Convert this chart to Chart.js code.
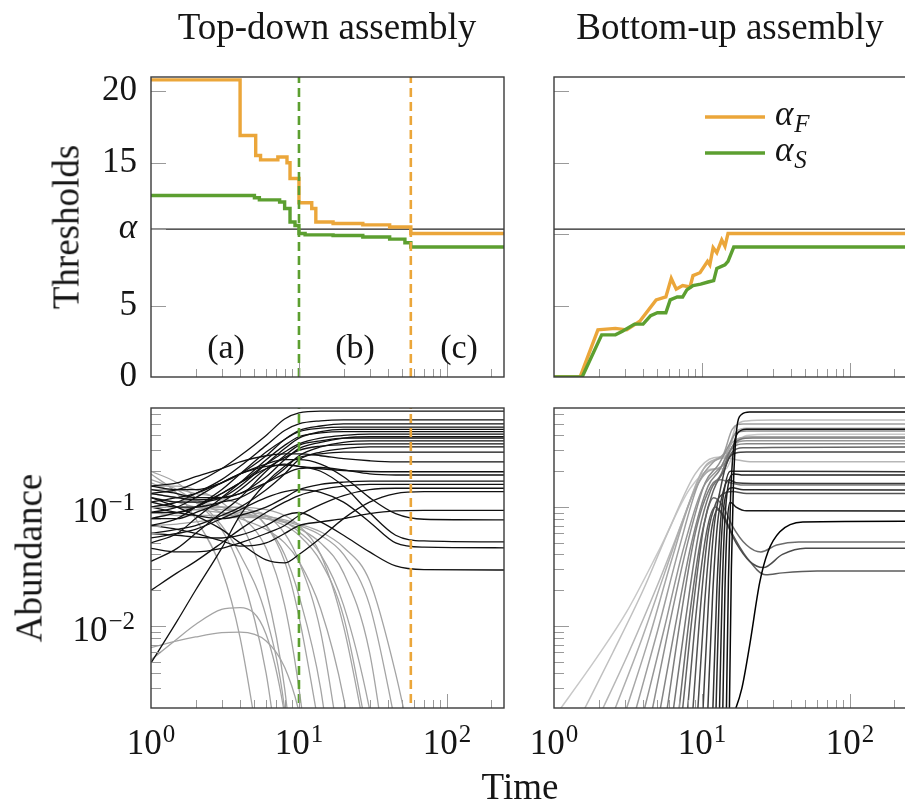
<!DOCTYPE html>
<html>
<head>
<meta charset="utf-8">
<script src="https://cdn.jsdelivr.net/npm/chart.js@4.4.1/dist/chart.umd.min.js"></script>
<style>
  body { margin: 0; background: #fff; }
  #page { position: relative; width: 905px; height: 805px; overflow: hidden; background: #fff; }
  #page canvas { position: absolute; left: 0; top: 0; }
  .txt { position: absolute; font-family: 'Liberation Serif', serif; color: #151515; white-space: nowrap; line-height: 1; transform: translate(-50%, -50%); }
  .big { font-size: 37px; }
  .mid { font-size: 34px; }
  .rot { transform: translate(-50%, -50%) rotate(-90deg); }
</style>
</head>
<body>
<div id="page">
  <canvas id="tdTop" width="930" height="805"></canvas>
  <canvas id="buTop" width="930" height="805"></canvas>
  <canvas id="tdBottom" width="930" height="805"></canvas>
  <canvas id="buBottom" width="930" height="805"></canvas>

  <div class="txt big" style="left:327px; top:26px;">Top-down assembly</div>
  <div class="txt big" style="left:730px; top:26px;">Bottom-up assembly</div>
  <div class="txt big rot" style="left:66px; top:227px;">Thresholds</div>
  <div class="txt big rot" style="left:29px; top:558px;">Abundance</div>
  <div class="txt big" style="left:520px; top:786px;">Time</div>
  <div class="txt mid" style="left:226px; top:347px;">(a)</div>
  <div class="txt mid" style="left:355px; top:347px;">(b)</div>
  <div class="txt mid" style="left:459px; top:347px;">(c)</div>
</div>

<script>
// ---- data -------------------------------------------------------------
const ALPHA = 10.35;
const switchTimes = [10, 57];          // end of phase (a), end of phase (b)

// thresholds, top-down: [time, value] where each value starts at its time
const tdAlphaF = [[1, 20.8], [4.0, 16.9], [5.1, 15.5], [5.5, 15.2], [7.2, 15.4], [8.3, 15.0], [8.7, 13.9],
  [10, 12.2], [12.2, 11.8], [13, 10.85], [17, 10.75], [27, 10.65], [41, 10.5], [57, 10.05], [250, 10.05]];
const tdAlphaS = [[1, 12.7], [5.0, 12.55], [5.4, 12.4], [7.4, 12.25], [8.0, 11.8], [8.7, 10.85], [9.4, 10.6],
  [10, 10.05], [11, 9.95], [17, 9.9], [27, 9.8], [41, 9.65], [52, 9.4], [57, 9.1], [250, 9.1]];

// thresholds, bottom-up
const buAlphaF = [[1, 0], [1.5, 0], [1.98, 3.3], [2.6, 3.4], [3.1, 3.3], [3.8, 3.9], [4.9, 5.4], [5.7, 5.6],
  [6.2, 6.9], [6.7, 6.15], [7.4, 6.4], [8.3, 6.3], [8.7, 7.1], [9.7, 7.3], [10.9, 8.1], [11.3, 7.85],
  [11.9, 9.05], [12.6, 8.7], [13.6, 9.6], [14.3, 9.15], [15.0, 10.05], [250, 10.05]];
const buAlphaS = [[1, 0], [1.55, 0], [2.1, 2.95], [2.6, 2.95], [2.9, 3.2], [3.5, 3.7], [4.0, 3.7], [4.5, 4.3],
  [5.0, 4.5], [5.7, 4.5], [6.1, 5.4], [6.8, 5.6], [7.4, 5.6], [7.9, 6.1], [8.7, 6.4], [9.8, 6.5],
  [11.0, 6.65], [12.0, 6.75], [12.6, 7.6], [14.3, 7.85], [15.0, 8.1], [16.4, 9.1], [250, 9.1]];

// abundances, top-down: sampled on a shared time grid
const tdTimes = [1, 1.5, 2, 3, 4, 6, 8, 10, 14, 20, 30, 45, 70, 250];
const tdSurvivors = [
  [0.13, 0.14, 0.16, 0.21, 0.27, 0.40, 0.55, 0.62, 0.64, 0.64, 0.64, 0.64, 0.64, 0.64],
  [0.10, 0.11, 0.13, 0.17, 0.22, 0.33, 0.44, 0.50, 0.53, 0.54, 0.54, 0.54, 0.54, 0.54],
  [0.15, 0.14, 0.14, 0.16, 0.19, 0.27, 0.37, 0.44, 0.48, 0.50, 0.50, 0.50, 0.50, 0.50],
  [0.07, 0.08, 0.10, 0.14, 0.19, 0.29, 0.37, 0.43, 0.46, 0.47, 0.47, 0.47, 0.47, 0.47],
  [0.12, 0.11, 0.11, 0.12, 0.15, 0.23, 0.31, 0.38, 0.43, 0.45, 0.45, 0.45, 0.45, 0.45],
  [0.05, 0.06, 0.08, 0.12, 0.16, 0.25, 0.33, 0.39, 0.42, 0.43, 0.43, 0.43, 0.43, 0.43],
  [0.09, 0.09, 0.10, 0.13, 0.16, 0.23, 0.29, 0.34, 0.38, 0.40, 0.41, 0.41, 0.41, 0.41],
  [0.14, 0.13, 0.12, 0.12, 0.13, 0.18, 0.25, 0.31, 0.35, 0.38, 0.39, 0.39, 0.39, 0.39],
  [0.035, 0.045, 0.06, 0.09, 0.12, 0.20, 0.27, 0.33, 0.36, 0.38, 0.38, 0.38, 0.38, 0.38],
  [0.11, 0.10, 0.10, 0.11, 0.12, 0.16, 0.21, 0.27, 0.32, 0.35, 0.36, 0.36, 0.36, 0.36],
  [0.08, 0.08, 0.09, 0.11, 0.14, 0.21, 0.26, 0.30, 0.325, 0.335, 0.34, 0.34, 0.34, 0.34],
  [0.06, 0.065, 0.07, 0.085, 0.10, 0.14, 0.19, 0.25, 0.29, 0.31, 0.32, 0.32, 0.32, 0.32],
  [0.0049, 0.011, 0.02, 0.045, 0.085, 0.16, 0.22, 0.26, 0.28, 0.29, 0.29, 0.29, 0.29, 0.29],
  [0.15, 0.16, 0.18, 0.21, 0.24, 0.27, 0.28, 0.28, 0.27, 0.255, 0.245, 0.24, 0.24, 0.24],
  [0.09, 0.10, 0.12, 0.16, 0.19, 0.22, 0.225, 0.22, 0.21, 0.203, 0.199, 0.198, 0.198, 0.198],
  [0.13, 0.12, 0.115, 0.12, 0.13, 0.16, 0.19, 0.21, 0.215, 0.205, 0.19, 0.186, 0.186, 0.186],
  [0.10, 0.09, 0.085, 0.08, 0.085, 0.10, 0.12, 0.14, 0.155, 0.162, 0.165, 0.165, 0.165, 0.165],
  [0.02, 0.028, 0.035, 0.05, 0.065, 0.09, 0.11, 0.125, 0.14, 0.15, 0.155, 0.155, 0.155, 0.155],
  [0.045, 0.042, 0.042, 0.045, 0.05, 0.06, 0.07, 0.085, 0.105, 0.125, 0.14, 0.144, 0.144, 0.144],
  [0.12, 0.10, 0.085, 0.065, 0.05, 0.036, 0.034, 0.04, 0.055, 0.08, 0.11, 0.13, 0.135, 0.135],
  [0.07, 0.065, 0.06, 0.052, 0.047, 0.05, 0.06, 0.07, 0.075, 0.08, 0.088, 0.093, 0.094, 0.094],
  [0.11, 0.12, 0.13, 0.16, 0.19, 0.23, 0.25, 0.25, 0.23, 0.18, 0.12, 0.088, 0.079, 0.078],
  [0.08, 0.09, 0.10, 0.13, 0.16, 0.21, 0.23, 0.22, 0.20, 0.15, 0.09, 0.058, 0.052, 0.051],
  [0.055, 0.06, 0.065, 0.08, 0.095, 0.12, 0.135, 0.14, 0.133, 0.11, 0.075, 0.05, 0.046, 0.0455],
  [0.06, 0.058, 0.056, 0.055, 0.058, 0.07, 0.085, 0.09, 0.075, 0.058, 0.042, 0.032, 0.0298, 0.0296]
];
// species that go extinct (series stop once they are far below the axis)
const tdExtinct = [
  [0.19, 0.13, 0.08, 0.03, 0.008, 0.0004],
  [0.17, 0.14, 0.11, 0.065, 0.03, 0.004, 0.0003],
  [0.15, 0.15, 0.14, 0.11, 0.075, 0.02, 0.003, 0.0002],
  [0.13, 0.12, 0.115, 0.10, 0.085, 0.045, 0.015, 0.003, 0.0001],
  [0.10, 0.11, 0.115, 0.115, 0.105, 0.07, 0.035, 0.012, 0.0012],
  [0.08, 0.09, 0.095, 0.10, 0.098, 0.085, 0.06, 0.035, 0.009, 0.0006],
  [0.16, 0.13, 0.11, 0.09, 0.08, 0.065, 0.05, 0.035, 0.014, 0.0025, 0.0001],
  [0.12, 0.11, 0.10, 0.095, 0.09, 0.08, 0.07, 0.058, 0.035, 0.012, 0.001],
  [0.09, 0.085, 0.085, 0.085, 0.085, 0.08, 0.074, 0.066, 0.05, 0.028, 0.006, 0.0002],
  [0.07, 0.072, 0.075, 0.08, 0.082, 0.08, 0.076, 0.07, 0.058, 0.04, 0.015, 0.0015, 0.0001],
  [0.11, 0.10, 0.095, 0.09, 0.087, 0.083, 0.078, 0.072, 0.062, 0.046, 0.024, 0.004, 0.0003],
  [0.0052, 0.0078, 0.0103, 0.0138, 0.0143, 0.0085, 0.0018, 0.0002],
  [0.0066, 0.0075, 0.0081, 0.0088, 0.0089, 0.0075, 0.0045, 0.0019, 0.0002],
  [0.2, 0.16, 0.12, 0.07, 0.04, 0.012, 0.002, 0.0001],
  [0.14, 0.14, 0.13, 0.12, 0.105, 0.07, 0.04, 0.018, 0.003, 0.0001],
  [0.1, 0.1, 0.1, 0.1, 0.1, 0.095, 0.085, 0.07, 0.04, 0.01, 0.0008],
  [0.13, 0.12, 0.11, 0.1, 0.093, 0.085, 0.075, 0.062, 0.04, 0.015, 0.002, 0.0001]
];

// abundances, bottom-up: one [time, value] list per species, in order of arrival
const buSpecies = [
  [[1.0, 0.0017], [1.94, 0.0054], [3.1, 0.0132], [5.2, 0.045], [8.3, 0.143], [11.9, 0.21], [14.5, 0.21], [17, 0.33], [20, 0.40], [30, 0.41], [250, 0.41]],
  [[1.5, 0.0017], [2.5, 0.006], [4, 0.02], [6, 0.065], [9, 0.19], [12, 0.26], [14.5, 0.27], [17, 0.48], [20, 0.53], [30, 0.54], [250, 0.54]],
  [[2.0, 0.0017], [3.2, 0.006], [5, 0.022], [7.5, 0.08], [10, 0.2], [12.5, 0.25], [14.5, 0.26], [17, 0.25], [22, 0.24], [250, 0.24]],
  [[2.45, 0.0017], [3.8, 0.007], [5.6, 0.028], [8, 0.1], [10.5, 0.22], [13, 0.26], [15, 0.3], [17, 0.43], [20, 0.46], [250, 0.46]],
  [[2.95, 0.0017], [4.4, 0.008], [6.2, 0.035], [8.5, 0.12], [11, 0.2], [13.5, 0.22], [15.5, 0.33], [18, 0.38], [22, 0.39], [250, 0.39]],
  [[3.45, 0.0017], [5, 0.009], [7, 0.045], [9.5, 0.16], [12, 0.24], [14, 0.28], [16, 0.45], [19, 0.5], [250, 0.5]],
  [[3.95, 0.0017], [5.5, 0.009], [7.5, 0.045], [10, 0.14], [12.5, 0.2], [14.5, 0.24], [16.5, 0.34], [20, 0.36], [250, 0.36]],
  [[4.5, 0.0017], [6, 0.01], [8, 0.05], [10.5, 0.16], [13, 0.23], [15, 0.32], [17, 0.42], [20, 0.435], [250, 0.435]],
  [[5.1, 0.0017], [6.6, 0.01], [8.5, 0.05], [11, 0.15], [13, 0.2], [15, 0.28], [17, 0.33], [20, 0.34], [250, 0.34]],
  [[5.7, 0.0017], [7.2, 0.012], [9, 0.06], [11.5, 0.15], [13.5, 0.17], [15.5, 0.16], [19, 0.153], [250, 0.153]],
  [[6.3, 0.0017], [7.8, 0.012], [9.5, 0.06], [11.5, 0.14], [13.5, 0.19], [15.5, 0.3], [18, 0.37], [22, 0.38], [250, 0.38]],
  [[6.9, 0.0017], [8.3, 0.013], [10, 0.06], [12, 0.12], [14, 0.1], [16, 0.07], [20, 0.048], [25, 0.042], [32, 0.048], [45, 0.051], [250, 0.051]],
  [[7.3, 0.0017], [8.7, 0.014], [10.3, 0.07], [12, 0.14], [14, 0.2], [16, 0.29], [19, 0.315], [250, 0.32]],
  [[7.9, 0.0017], [9.2, 0.014], [10.7, 0.06], [12.3, 0.1], [14, 0.085], [16, 0.06], [20, 0.038], [27, 0.027], [35, 0.028], [60, 0.029], [250, 0.029]],
  [[8.6, 0.0017], [9.8, 0.015], [11, 0.06], [12.5, 0.11], [14, 0.13], [16, 0.135], [20, 0.13], [250, 0.13]],
  [[9.3, 0.0017], [10.4, 0.015], [11.5, 0.06], [12.8, 0.095], [14.5, 0.075], [17, 0.05], [21, 0.035], [26, 0.031], [35, 0.04], [50, 0.045], [250, 0.045]],
  [[10.1, 0.0017], [11.1, 0.017], [12.1, 0.07], [13.3, 0.14], [14.8, 0.24], [17, 0.285], [20, 0.29], [250, 0.29]],
  [[10.9, 0.0017], [11.8, 0.018], [12.7, 0.07], [13.8, 0.13], [15.2, 0.17], [17, 0.16], [22, 0.158], [250, 0.158]],
  [[11.8, 0.0017], [12.6, 0.02], [13.4, 0.08], [14.3, 0.15], [15.5, 0.2], [17.5, 0.2], [250, 0.198]],
  [[12.4, 0.0017], [13.1, 0.02], [13.8, 0.08], [14.6, 0.13], [16, 0.145], [19, 0.14], [250, 0.139]],
  [[13.1, 0.0017], [13.7, 0.02], [14.3, 0.08], [15, 0.15], [16.5, 0.19], [19, 0.186], [250, 0.186]],
  [[13.8, 0.0017], [14.3, 0.02], [14.8, 0.07], [15.5, 0.11], [17, 0.1], [20, 0.093], [250, 0.0925]],
  [[14.6, 0.0017], [15.1, 0.025], [15.6, 0.12], [16.3, 0.3], [17.5, 0.42], [20, 0.45], [250, 0.45]],
  [[15.3, 0.0017], [15.8, 0.03], [16.3, 0.15], [17, 0.4], [18.5, 0.6], [21, 0.63], [250, 0.63]],
  [[16.1, 0.0017], [18.6, 0.003], [21, 0.0069], [24.6, 0.0235], [27.9, 0.042], [33.6, 0.062], [48, 0.075], [250, 0.076]]
];

// axis ticks
const timeTicks = [1, 2, 3, 4, 5, 6, 7, 8, 9, 10, 20, 30, 40, 50, 60, 70, 80, 90, 100, 200];
const timeLabels = { 1: '0', 10: '1', 100: '2' };
const abundTicks = [0.003, 0.004, 0.005, 0.006, 0.007, 0.008, 0.009, 0.01, 0.02, 0.03, 0.04, 0.05,
  0.06, 0.07, 0.08, 0.09, 0.1, 0.2, 0.3, 0.4, 0.5, 0.6];
const abundLabels = { 0.01: '\u22122', 0.1: '\u22121' };
const tdThreshTicks = [0, 5, ALPHA, 15, 20];
const buThreshTicks = [0, 5, 10, 15, 20];

// ---- styling ----------------------------------------------------------
const ORANGE = '#eba63a';
const GREEN = '#5c9f30';
const SERIF = '"Liberation Serif", serif';
const AXIS_W = 80;                      // room kept for the y tick labels
const majors = [1, 10, 100, 0.01, 0.1];

const pairs = arr => arr.map(([x, y]) => ({ x, y }));
const onGrid = arr => tdTimes.map((t, i) => ({ x: t, y: i < arr.length ? arr[i] : null }));

function vline(x, lo, hi, color) {
  return { data: [{ x, y: lo }, { x, y: hi }], borderColor: color, borderWidth: 2.6,
    borderDash: [9, 5], pointRadius: 0, order: 0 };
}

function timeAxis() {
  return {
    type: 'logarithmic', min: 1, max: 243,
    afterBuildTicks: s => { s.ticks = timeTicks.map(v => ({ value: v, major: majors.includes(v) })); },
    afterFit: s => { s.height = 40; },
    ticks: { display: false, autoSkip: false },
    grid: { display: false, drawTicks: false },
    border: { display: false }
  };
}

function abundAxis() {
  return {
    type: 'logarithmic', min: 0.00205, max: 0.68,
    afterBuildTicks: s => { s.ticks = abundTicks.map(v => ({ value: v, major: majors.includes(v) })); },
    afterFit: s => { s.width = AXIS_W; },
    ticks: { display: false, autoSkip: false },
    grid: { display: false, drawTicks: false },
    border: { display: false }
  };
}

function threshAxis(list, labelled) {
  return {
    type: 'linear', min: 0, max: 21,
    afterBuildTicks: s => { s.ticks = list.map(v => ({ value: v, major: true })); },
    afterFit: s => { s.width = AXIS_W; },
    ticks: {
      display: labelled, autoSkip: false, padding: 14, color: '#151515',
      font: c => ({ family: SERIF, size: 35, style: c.tick && c.tick.value === ALPHA ? 'italic' : 'normal' }),
      callback: v => (v === ALPHA ? '\u03b1' : String(v))
    },
    grid: { display: false, drawTicks: false },
    border: { display: false }
  };
}

// "10" with a raised exponent; y is the tick position
function drawPower(ctx, exp, x, y, align) {
  ctx.font = '35px ' + SERIF;
  const wb = ctx.measureText('10').width;
  ctx.font = '25px ' + SERIF;
  const we = ctx.measureText(exp).width;
  const left = align === 'right' ? x - wb - we - 1 : x - (wb + we + 1) / 2;
  ctx.fillStyle = '#151515';
  ctx.textAlign = 'left';
  ctx.textBaseline = 'alphabetic';
  ctx.font = '35px ' + SERIF;
  ctx.fillText('10', left, y + 15);
  ctx.font = '25px ' + SERIF;
  ctx.fillText(exp, left + wb + 1, y + 3);
}

// frame, inward tick marks, power-of-ten labels and the legend
const panelDeco = {
  id: 'panelDeco',
  afterDatasetsDraw(chart, args, opts) {
    const { ctx, chartArea: a } = chart;
    const xs = chart.scales.x, ys = chart.scales.y;
    ctx.save();
    ctx.strokeStyle = '#9a9a9a';
    ctx.lineWidth = 1;
    ctx.beginPath();
    xs.ticks.forEach(t => {
      if (t.value === 1) return;
      const px = Math.round(xs.getPixelForValue(t.value)) + 0.5;
      ctx.moveTo(px, a.bottom);
      ctx.lineTo(px, a.bottom - (t.major ? 14 : 8));
    });
    ys.ticks.forEach(t => {
      const py = Math.round(ys.getPixelForValue(t.value)) + 0.5;
      if (py > a.bottom - 2 || py < a.top + 2) return;
      ctx.moveTo(a.left, py);
      ctx.lineTo(a.left + (ys.type === 'linear' || t.major ? 15 : 10), py);
    });
    ctx.stroke();

    ctx.strokeStyle = '#3a3a3a';
    ctx.lineWidth = 1.4;
    ctx.strokeRect(a.left, a.top, a.right - a.left, a.bottom - a.top);

    if (opts.timeLabels) {
      xs.ticks.forEach(t => {
        const e = timeLabels[t.value];
        if (e !== undefined) drawPower(ctx, e, xs.getPixelForValue(t.value), a.bottom + 31, 'center');
      });
    }
    if (opts.abundLabels) {
      ys.ticks.forEach(t => {
        const e = abundLabels[t.value];
        if (e !== undefined) drawPower(ctx, e, a.left - 16, ys.getPixelForValue(t.value), 'right');
      });
    }
    if (opts.legend) {
      chart.data.datasets.filter(d => d.label).forEach((d, i) => {
        const y = a.top + 40 + i * 36;
        const x = a.left + 151;
        ctx.strokeStyle = d.borderColor;
        ctx.lineWidth = 3.6;
        ctx.beginPath();
        ctx.moveTo(x, y);
        ctx.lineTo(x + 60, y);
        ctx.stroke();
        const [sym, sub] = d.label.split('_');
        ctx.fillStyle = '#151515';
        ctx.textAlign = 'left';
        ctx.textBaseline = 'alphabetic';
        ctx.font = 'italic 35px ' + SERIF;
        ctx.fillText(sym, x + 70, y + 8);
        const w = ctx.measureText(sym).width;
        ctx.font = 'italic 25px ' + SERIF;
        ctx.fillText(sub, x + 71 + w, y + 15);
      });
    }
    ctx.restore();
  }
};

function panel(id, area, scales, datasets, deco) {
  return new Chart(document.getElementById(id), {
    type: 'line',
    data: { datasets },
    options: {
      responsive: false, animation: false, devicePixelRatio: 1, events: [],
      layout: { padding: { left: area.left - AXIS_W, right: 930 - area.right, top: area.top, bottom: 805 - area.bottom - 40 } },
      elements: { point: { radius: 0 }, line: { fill: false } },
      scales,
      plugins: { legend: { display: false }, tooltip: { enabled: false }, panelDeco: deco }
    },
    plugins: [panelDeco]
  });
}

// ---- top-down thresholds ---------------------------------------------
panel('tdTop', { left: 151, right: 504, top: 77, bottom: 377 },
  { x: timeAxis(), y: threshAxis(tdThreshTicks, true) },
  [
    vline(switchTimes[0], 0, 21, GREEN),
    vline(switchTimes[1], 0, 21, ORANGE),
    { data: pairs(tdAlphaS), borderColor: GREEN, borderWidth: 3.4, stepped: true, order: 1 },
    { data: pairs(tdAlphaF), borderColor: ORANGE, borderWidth: 3.4, stepped: true, order: 2 },
    { data: [{ x: 1, y: ALPHA }, { x: 243, y: ALPHA }], borderColor: '#222', borderWidth: 1.2, order: 3 }
  ], {});

// ---- bottom-up thresholds ---------------------------------------------
panel('buTop', { left: 554, right: 907, top: 77, bottom: 377 },
  { x: timeAxis(), y: threshAxis(buThreshTicks, false) },
  [
    { label: '\u03b1_F', data: pairs(buAlphaF), borderColor: ORANGE, borderWidth: 3.4, order: 1 },
    { label: '\u03b1_S', data: pairs(buAlphaS), borderColor: GREEN, borderWidth: 3.4, order: 0 },
    { data: [{ x: 1, y: ALPHA }, { x: 243, y: ALPHA }], borderColor: '#222', borderWidth: 1.2, order: 3 }
  ], { legend: true });

// ---- top-down abundances ----------------------------------------------
panel('tdBottom', { left: 151, right: 504, top: 408, bottom: 708 },
  { x: timeAxis(), y: abundAxis() },
  [
    vline(switchTimes[0], 0.001, 1, GREEN),
    vline(switchTimes[1], 0.001, 1, ORANGE),
    ...tdSurvivors.map(s => ({ data: onGrid(s), borderColor: '#111', borderWidth: 1.3,
      cubicInterpolationMode: 'monotone', order: 1 })),
    ...tdExtinct.map(s => ({ data: onGrid(s), borderColor: '#a4a4a4', borderWidth: 1.3,
      cubicInterpolationMode: 'monotone', order: 2 }))
  ], { timeLabels: true, abundLabels: true });

// ---- bottom-up abundances: shade darkens with arrival order ------------
panel('buBottom', { left: 554, right: 907, top: 408, bottom: 708 },
  { x: timeAxis(), y: abundAxis() },
  buSpecies.map((s, i) => {
    const g = Math.round(200 * (1 - i / (buSpecies.length - 1)));
    return { data: pairs(s), borderColor: `rgb(${g},${g},${g})`, borderWidth: 1.5,
      cubicInterpolationMode: 'monotone', order: buSpecies.length - i };
  }), { timeLabels: true });
</script>
</body>
</html>
